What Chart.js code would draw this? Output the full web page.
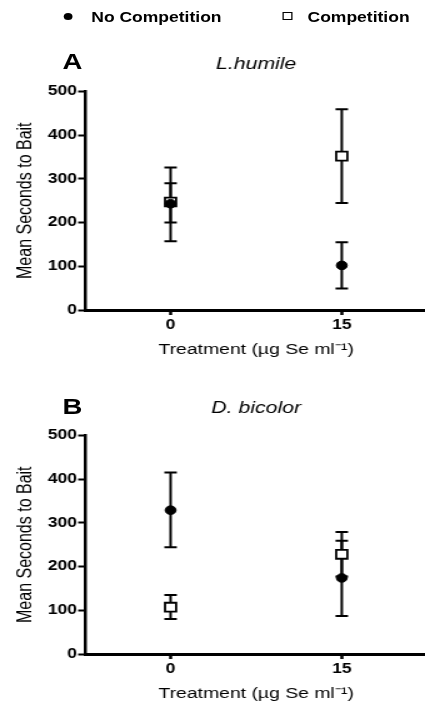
<!DOCTYPE html>
<html>
<head>
<meta charset="utf-8">
<script src="https://cdn.jsdelivr.net/npm/chart.js@4"></script>
<style>
  html, body { margin: 0; padding: 0; background: #fff; overflow: hidden; }
  body { width: 425px; height: 706px; position: relative; }
  /* the figure is drawn narrow and stretched sideways, like the original */
  #fig { position: absolute; left: 0; top: 0; width: 340px; height: 706px;
         transform: scaleX(1.25); transform-origin: 0 0;
         font-family: "Liberation Sans", Arial, sans-serif; color: #000; }
  .legend { position: absolute; top: 8px; font-weight: bold; font-size: 14px; line-height: 18px; }
  .dot { position: absolute; top: 13px; width: 7px; height: 7px; border-radius: 50%; background: #000; }
  .sq { position: absolute; top: 12px; width: 6px; height: 6px; border: 1.5px solid #000; background: #fff; }
  .panel { position: absolute; font-weight: bold; font-size: 22px; line-height: 24px; }
  canvas { position: absolute; left: 0; }
</style>
</head>
<body>
<div id="fig">
  <span class="dot" style="left:51px"></span>
  <span class="legend" style="left:73px">No Competition</span>
  <span class="sq" style="left:226px"></span>
  <span class="legend" style="left:246px">Competition</span>

  <div class="panel" style="left:50px;top:50px">A</div>
  <div class="panel" style="left:50px;top:395px">B</div>

  <!-- a bit wider than the page: the x axis runs to the right edge -->
  <canvas id="chart-a" width="350" height="330" style="top:38px"></canvas>
  <canvas id="chart-b" width="350" height="330" style="top:382px"></canvas>
</div>

<script>
// categories
const treatments = ['0', '15'];
const yTicks = [0, 100, 200, 300, 400, 500];

// panel A - L.humile
const humileNoComp = [243, 102];
const humileNoCompLow = [200, 49];
const humileNoCompHigh = [290, 155];
const humileComp = [247, 352];
const humileCompLow = [157, 245];
const humileCompHigh = [326, 459];

// panel B - D. bicolor
const bicolorNoComp = [329, 174];
const bicolorNoCompLow = [244, 87];
const bicolorNoCompHigh = [415, 259];
const bicolorComp = [107, 228];
const bicolorCompLow = [80, 177];
const bicolorCompHigh = [135, 279];

// error bars, drawn under the markers
const errorBars = {
  id: 'errorBars',
  beforeDatasetsDraw(chart) {
    const ctx = chart.ctx;
    const x = chart.scales.x, y = chart.scales.y;
    ctx.save();
    ctx.strokeStyle = '#000';
    ctx.lineWidth = 2;
    chart.data.datasets.forEach(ds => {
      ds.low.forEach((lo, i) => {
        const px = x.getPixelForValue(i);
        const yLo = y.getPixelForValue(lo);
        const yHi = y.getPixelForValue(ds.high[i]);
        ctx.beginPath();
        ctx.moveTo(px, yLo); ctx.lineTo(px, yHi);
        ctx.moveTo(px - 5, yLo); ctx.lineTo(px + 5, yLo);
        ctx.moveTo(px - 5, yHi); ctx.lineTo(px + 5, yHi);
        ctx.stroke();
      });
    });
    ctx.restore();
  }
};

function makeChart(id, title, noComp, noLow, noHigh, comp, cLow, cHigh) {
  const font = { family: '"Liberation Sans", Arial, sans-serif' };
  return new Chart(document.getElementById(id), {
    type: 'line',
    data: {
      labels: treatments,
      datasets: [
        {
          label: 'No Competition',
          data: noComp, low: noLow, high: noHigh,
          showLine: false,
          pointStyle: 'circle', pointRadius: 4.3,
          pointBackgroundColor: '#000', pointBorderColor: '#000', pointBorderWidth: 1
        },
        {
          label: 'Competition',
          data: comp, low: cLow, high: cHigh,
          showLine: false,
          pointStyle: 'rect', pointRadius: 6.3,
          pointBackgroundColor: '#fff', pointBorderColor: '#000', pointBorderWidth: 1.8
        }
      ]
    },
    options: {
      responsive: false,
      animation: false,
      layout: { padding: { left: 0, right: 0, top: 0, bottom: 0 } },
      plugins: {
        legend: { display: false },
        tooltip: { enabled: false },
        title: {
          display: true,
          text: title,
          fullSize: false,
          color: '#000',
          font: { ...font, size: 17, style: 'italic', weight: 'normal' },
          padding: { top: 16, bottom: 17 }
        }
      },
      scales: {
        x: {
          type: 'category',
          offset: true,
          afterFit: s => { s.height = 58; },
          border: { color: '#000', width: 3 },
          grid: { drawOnChartArea: false, tickLength: 5, tickColor: '#000', tickWidth: 2.5 },
          ticks: { color: '#000', padding: 2, font: { ...font, size: 14, weight: 'bold' } },
          title: {
            display: true,
            text: 'Treatment (\u00b5g Se ml\u207b\u00b9)',
            color: '#000',
            font: { ...font, size: 15.5 },
            padding: { top: 0, bottom: 9 }
          }
        },
        y: {
          min: 0, max: 500,
          afterFit: s => { s.width = 68; },
          afterBuildTicks: s => { s.ticks = yTicks.map(v => ({ value: v })); },
          border: { color: '#000', width: 2.5 },
          grid: { drawOnChartArea: false, tickLength: 5.5, tickColor: '#000', tickWidth: 2 },
          ticks: { color: '#000', padding: 1, font: { ...font, size: 14, weight: 'bold' } },
          title: {
            display: true,
            text: 'Mean Seconds to Bait',
            color: '#000',
            font: { ...font, size: 16 },
            padding: { top: 11, bottom: 0 }
          }
        }
      }
    },
    plugins: [errorBars]
  });
}

makeChart('chart-a', 'L.humile',
  humileNoComp, humileNoCompLow, humileNoCompHigh,
  humileComp, humileCompLow, humileCompHigh);
makeChart('chart-b', 'D. bicolor',
  bicolorNoComp, bicolorNoCompLow, bicolorNoCompHigh,
  bicolorComp, bicolorCompLow, bicolorCompHigh);
</script>
</body>
</html>
